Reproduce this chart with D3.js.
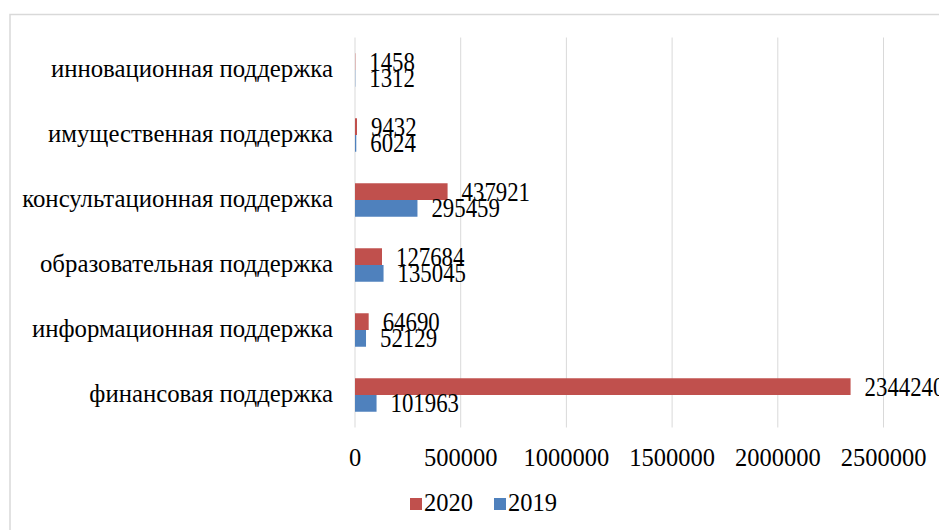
<!DOCTYPE html>
<html>
<head>
<meta charset="utf-8">
<script src="https://cdn.jsdelivr.net/npm/d3@7"></script>
<style>
  body { margin: 0; background: #fff; }
  svg text { font-family: "Liberation Serif", "Times New Roman", serif; fill: #000; }
</style>
</head>
<body>
<div class="chart"></div>
<script>
// data
var categories = ["инновационная поддержка", "имущественная поддержка", "консультационная поддержка",
                  "образовательная поддержка", "информационная поддержка", "финансовая поддержка"];
var series = ["2020", "2019"];
var values2020 = [1458, 9432, 437921, 127684, 64690, 2344240];
var values2019 = [1312, 6024, 295459, 135045, 52129, 101963];
var xTicks = [0, 500000, 1000000, 1500000, 2000000, 2500000, 3000000];
var colors = ["#C0504D", "#4F81BD"];

var width = 939, height = 530;

var svg = d3.select(".chart").append("svg").attr("width", width).attr("height", height);

// chart border
svg.append("rect")
  .attr("x", 10).attr("y", 14.5)
  .attr("width", width + 20).attr("height", height + 20)
  .attr("fill", "none").attr("stroke", "#d9d9d9").attr("stroke-width", 1.5);

var x = d3.scaleLinear().domain([0, 3000000]).range([355, 355 + 6 * 105.7]);
var y = d3.scaleBand().domain(categories).range([37.5, 427.5]).paddingInner(0.485).paddingOuter(0.2425);
var ySub = d3.scaleBand().domain(series).range([0, y.bandwidth()]);

// grid
svg.append("g").selectAll("line")
  .data(xTicks)
  .enter().append("line")
  .attr("x1", d => x(d)).attr("x2", d => x(d))
  .attr("y1", 37.5).attr("y2", 427.5)
  .attr("stroke", "#d9d9d9").attr("stroke-width", 1);

// tick labels
svg.append("g").selectAll("text")
  .data(xTicks)
  .enter().append("text")
  .attr("text-anchor", "middle")
  .attr("x", d => x(d)).attr("y", 466)
  .style("font-size", "24.5px")
  .text(d => d);

// category labels
svg.append("g").selectAll("text")
  .data(categories)
  .enter().append("text")
  .attr("text-anchor", "end")
  .attr("x", 333)
  .attr("y", d => y(d) + y.bandwidth() / 2 + 6.7)
  .style("font-size", "24.8px")
  .text(d => d);

var rows = categories.map(function(c, i) {
  return {cat: c, vals: [{s: "2020", v: values2020[i]}, {s: "2019", v: values2019[i]}]};
});

var groups = svg.append("g").selectAll("g")
  .data(rows)
  .enter().append("g")
  .attr("transform", d => "translate(0," + y(d.cat) + ")");

groups.selectAll("rect")
  .data(d => d.vals)
  .enter().append("rect")
  .attr("x", x(0))
  .attr("y", d => ySub(d.s))
  .attr("width", d => x(d.v) - x(0))
  .attr("height", ySub.bandwidth())
  .attr("fill", (d, i) => colors[i]);

// value labels look narrow and tall in the original
groups.selectAll("text")
  .data(d => d.vals)
  .enter().append("text")
  .attr("transform", d => "translate(" + (x(d.v) + 14) + "," + (ySub(d.s) + ySub.bandwidth() / 2 + 9) + ") scale(0.845,1)")
  .style("font-size", "27px")
  .text(d => d.v);

// legend
var legend = svg.append("g").selectAll("g")
  .data(series)
  .enter().append("g")
  .attr("transform", (d, i) => "translate(" + (410 + i * 84) + ",498)");

legend.append("rect")
  .attr("width", 12).attr("height", 12)
  .attr("fill", (d, i) => colors[i]);

legend.append("text")
  .attr("x", 14).attr("y", 13)
  .style("font-size", "24.5px")
  .text(d => d);
</script>
</body>
</html>
